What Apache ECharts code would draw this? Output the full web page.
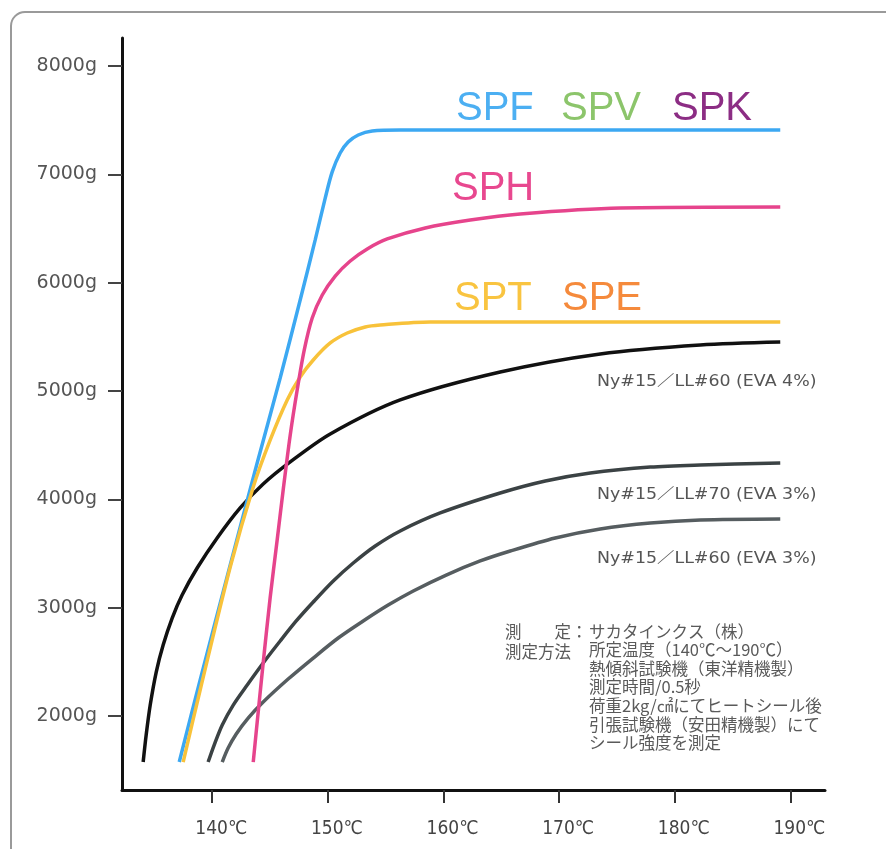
<!DOCTYPE html>
<html>
<head>
<meta charset="utf-8">
<script src="https://cdn.jsdelivr.net/npm/echarts@6.0.0/dist/echarts.min.js"></script>
<style>
html,body{margin:0;padding:0;background:#fff;}
#chart{width:886px;height:849px;}
</style>
</head>
<body>
<div id="chart"></div>
<script>
// ---- data (temperature in ℃, seal strength in g) ----
const tempTicks = [140, 150, 160, 170, 180, 190];
const weightTicks = [2000, 3000, 4000, 5000, 6000, 7000, 8000];

const spfData = [[137.15,1575],[138.96,2332],[141.56,3394],[143.89,4335],[145.88,5120],[147.61,5840],[148.91,6394],[149.78,6782],[150.38,7022],[151.07,7197],[151.76,7298],[152.63,7363],[153.84,7400],[156.26,7409],[164.91,7409],[189.13,7409]];
const sphData = [[143.55,1575],[143.98,2037],[144.41,2489],[145.02,3098],[145.62,3625],[146.14,4086],[146.75,4594],[147.35,5009],[147.96,5378],[148.65,5674],[149.52,5886],[150.64,6061],[151.94,6200],[153.41,6311],[155.14,6403],[158.43,6505],[162.32,6578],[166.64,6634],[175.29,6689],[189.13,6698]];
const sptData = [[137.49,1575],[138.96,2240],[141.56,3375],[143.55,4114],[145.02,4548],[146.49,4917],[147.61,5129],[148.74,5286],[150.21,5443],[151.68,5535],[153.24,5591],[154.53,5609],[158.86,5637],[189.13,5637]];
const eva4Data = [[134.03,1575],[134.29,1824],[134.64,2101],[135.16,2406],[135.76,2655],[136.54,2904],[137.40,3117],[138.70,3366],[140.43,3643],[142.42,3920],[144.41,4141],[146.75,4345],[150.21,4603],[156.26,4917],[164.91,5175],[173.56,5342],[182.21,5425],[189.13,5452]];
const ll70Data = [[139.65,1575],[140.17,1732],[140.87,1917],[141.82,2101],[143.03,2286],[144.41,2489],[145.88,2692],[147.27,2877],[148.74,3052],[150.47,3246],[152.20,3412],[154.10,3569],[156.26,3708],[159.72,3874],[164.91,4058],[168.81,4169],[172.70,4243],[177.89,4298],[182.21,4317],[189.13,4335]];
const ll60Data = [[140.87,1575],[141.38,1704],[142.08,1834],[143.11,1981],[144.41,2129],[146.57,2341],[148.74,2535],[150.90,2720],[153.06,2877],[155.22,3024],[157.39,3154],[160.24,3301],[163.18,3431],[165.78,3523],[169.67,3643],[173.56,3726],[177.89,3781],[182.21,3809],[189.13,3818]];

const seriesNames = ['Ny#15／LL#60 (EVA 3%)', 'Ny#15／LL#70 (EVA 3%)', 'Ny#15／LL#60 (EVA 4%)', 'SPF', 'SPT', 'SPH'];

const noteLeft = ['測　　定：', '測定方法'];
const noteRight = ['サカタインクス（株）', '所定温度（140℃～190℃）', '熱傾斜試験機（東洋精機製）', '測定時間/0.5秒', '荷重2kg/㎠にてヒートシール後', '引張試験機（安田精機製）にて', 'シール強度を測定'];

const chart = echarts.init(document.getElementById('chart'), null, {renderer: 'canvas'});

function lineSeries(name, data, color, z) {
  return {
    name: name, type: 'line', data: data, symbol: 'none', smooth: 0.3,
    z: z, lineStyle: {color: color, width: 3.5}, emphasis: {disabled: true}
  };
}

const jp = '"Noto Sans CJK JP", sans-serif';
const big = '40px "Liberation Sans", Arial, sans-serif';
const small = '15px "DejaVu Sans", "Noto Sans CJK JP", sans-serif';

function curveLabel(text, y) {
  return {type: 'text', x: 597, y: y, scaleX: 1.16, style: {text: text, font: small, fill: '#555', verticalAlign: 'middle'}};
}

const option = {
  animation: false,
  backgroundColor: '#ffffff',
  grid: {left: 122, right: 61, top: 38, bottom: 59, containLabel: false},
  xAxis: {
    type: 'value', min: 132.2, max: 193.0,
    axisLine: {onZero: false, lineStyle: {color: '#111', width: 3}},
    axisTick: {customValues: tempTicks, length: 13, lineStyle: {color: '#333', width: 2}},
    axisLabel: {customValues: tempTicks, formatter: v => v + '℃', margin: 30, fontSize: 19,
      padding: [0, 0, 0, 18],
      fontFamily: '"Liberation Sans Narrow", "DejaVu Sans Condensed", sans-serif', color: '#444'},
    splitLine: {show: false}
  },
  yAxis: {
    type: 'value', min: 1317, max: 8258,
    axisLine: {show: true, onZero: false, lineStyle: {color: '#111', width: 3}},
    axisTick: {show: true, customValues: weightTicks, length: 14, lineStyle: {color: '#444', width: 2}},
    axisLabel: {customValues: weightTicks, formatter: v => v + 'g', margin: 25, fontSize: 19,
      fontFamily: '"DejaVu Sans", sans-serif', color: '#555'},
    splitLine: {show: false}
  },
  series: [
    lineSeries(seriesNames[0], ll60Data, '#565d60', 2),
    lineSeries(seriesNames[1], ll70Data, '#3b4244', 3),
    lineSeries(seriesNames[2], eva4Data, '#111111', 4),
    lineSeries(seriesNames[3], spfData, '#3ca8f2', 5),
    lineSeries(seriesNames[4], sptData, '#f8c23a', 6),
    lineSeries(seriesNames[5], sphData, '#e6448c', 7)
  ],
  graphic: [
    {type: 'rect', silent: true, z: -1, shape: {x: 11, y: 12, width: 920, height: 900, r: 14},
      style: {fill: 'none', stroke: '#9a9a9a', lineWidth: 2}},
    {type: 'text', x: 456, y: 109, style: {text: 'SPF', font: big, fill: '#4caff2', verticalAlign: 'middle'}},
    {type: 'text', x: 561, y: 109, style: {text: 'SPV', font: big, fill: '#8cc56b', verticalAlign: 'middle'}},
    {type: 'text', x: 672, y: 109, style: {text: 'SPK', font: big, fill: '#8c2d84', verticalAlign: 'middle'}},
    {type: 'text', x: 452, y: 189, style: {text: 'SPH', font: big, fill: '#e8488f', verticalAlign: 'middle'}},
    {type: 'text', x: 454, y: 299, style: {text: 'SPT', font: big, fill: '#f9c440', verticalAlign: 'middle'}},
    {type: 'text', x: 562, y: 299, style: {text: 'SPE', font: big, fill: '#f58a3c', verticalAlign: 'middle'}},
    curveLabel(seriesNames[2], 382),
    curveLabel(seriesNames[1], 495),
    curveLabel(seriesNames[0], 559),
    {type: 'text', x: 505, y: 622, style: {text: noteLeft.join('\n'), font: '16.5px ' + jp, lineHeight: 19.5, fill: '#5a5a5a'}},
    {type: 'text', x: 589, y: 622, style: {text: noteRight.join('\n'), font: '16.5px ' + jp, lineHeight: 18.6, fill: '#5a5a5a'}}
  ]
};
chart.setOption(option);
</script>
</body>
</html>
